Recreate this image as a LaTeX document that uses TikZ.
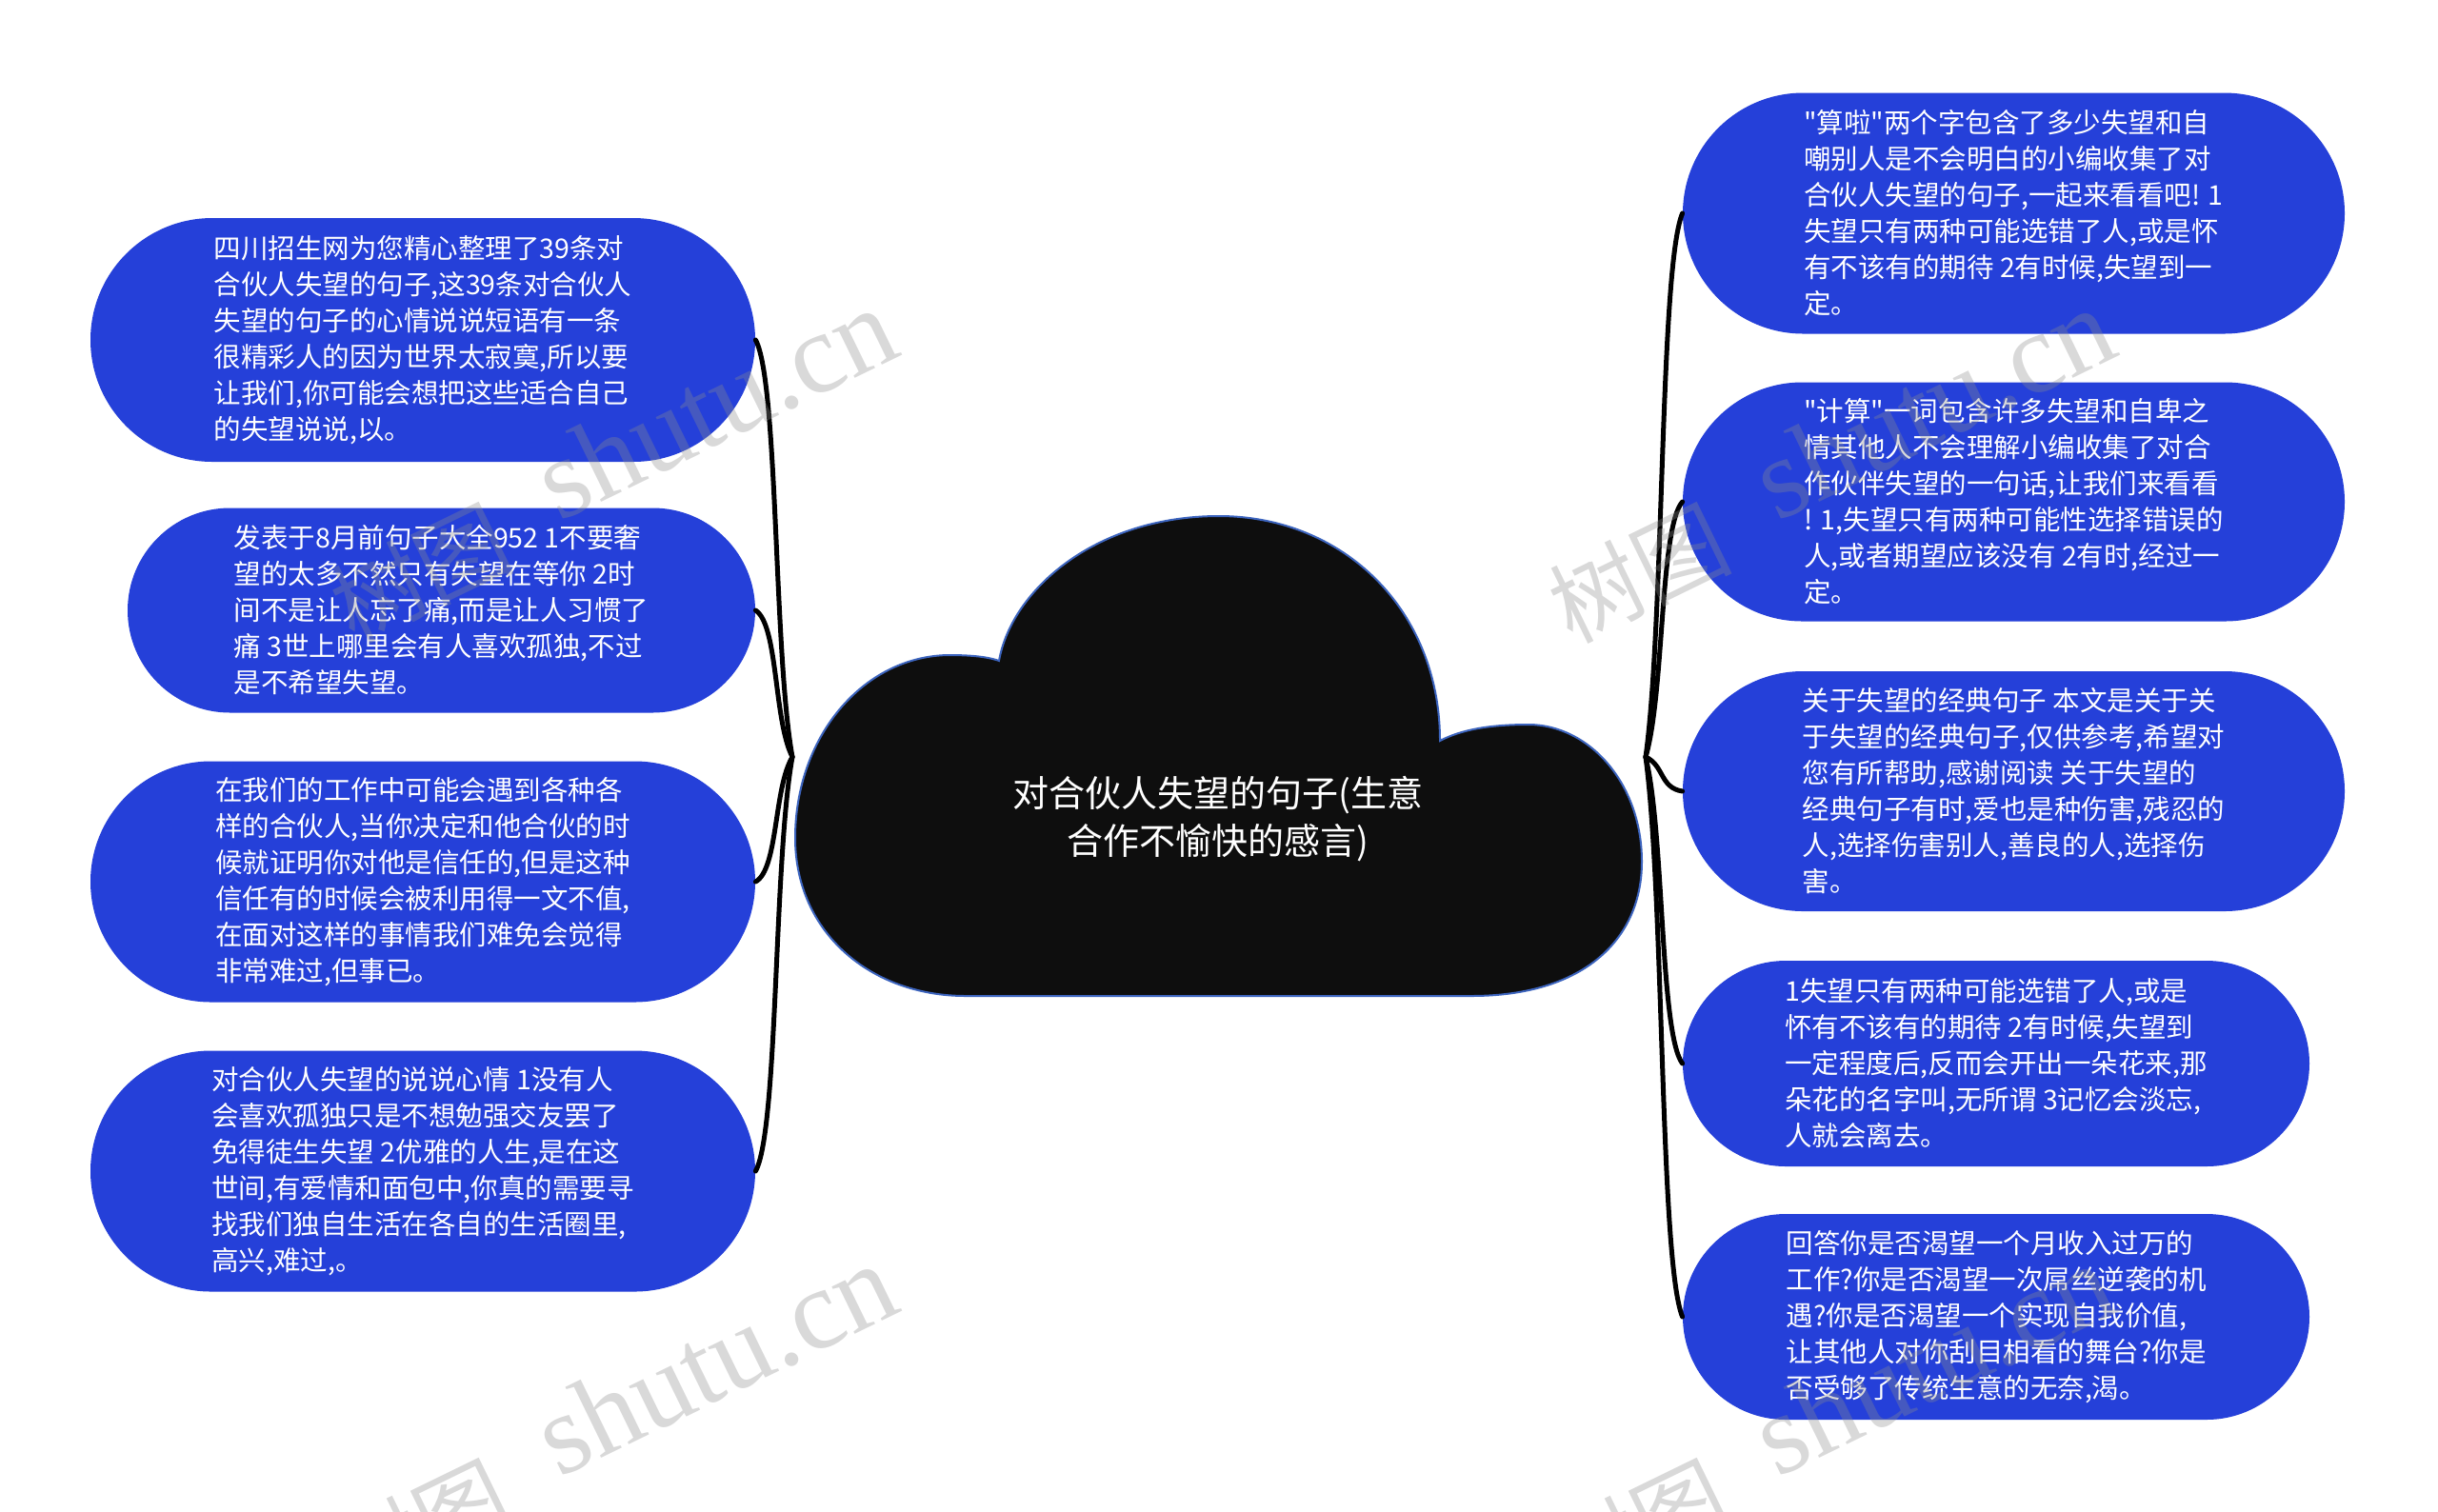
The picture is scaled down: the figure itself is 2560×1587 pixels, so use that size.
\documentclass[tikz,border=0pt]{standalone}
\usepackage{fontspec}
\newfontfamily\nodefont{Noto Sans CJK SC}
\newfontfamily\cjk{Noto Sans CJK SC}
\newfontfamily\wmlatin{Liberation Serif}
\usetikzlibrary{shapes.misc,calc}
\definecolor{nodeblue}{RGB}{37,64,217}
\definecolor{cloudfill}{RGB}{14,14,14}
\definecolor{cloudline}{RGB}{60,100,190}
\definecolor{wmgray}{RGB}{140,140,140}
\newcommand\wmtext{\raisebox{-10pt}{\cjk\fontsize{48pt}{48pt}\selectfont 树图}\hspace{14pt} shutu.cn}
\tikzset{
  leaf/.style={rounded rectangle, fill=nodeblue, draw=none, text=white, align=left,
    inner sep=0pt, font=\nodefont\fontsize{14.25pt}{19pt}\selectfont},
  conn/.style={draw=black, line width=2.5pt, line cap=round},
  wm/.style={font=\wmlatin\fontsize{60pt}{60pt}\selectfont, text=wmgray, text opacity=0.33, rotate=26, anchor=base east, inner sep=0pt}
}
\begin{document}
\begin{tikzpicture}[x=0.5pt,y=-0.5pt]
\useasboundingbox (0,0) rectangle (2560,1587);
\fill[white] (0,0) rectangle (2560,1587);

% cloud
\filldraw[fill=cloudfill, draw=cloudline, line width=1pt]
  (1014,1046) -- (1545,1046)
  .. controls (1665,1046) and (1724,985) .. (1724,905)
  .. controls (1724,822) and (1668,761) .. (1605,761)
  .. controls (1565,761) and (1535,766) .. (1512,778)
  .. controls (1512,640) and (1410,542) .. (1280,542)
  .. controls (1150,542) and (1062,620) .. (1049,694)
  .. controls (1035,689) and (1015,688) .. (995,688)
  .. controls (905,690) and (835,775) .. (835,880)
  .. controls (835,980) and (915,1046) .. (1014,1046) -- cycle;
\node[font=\nodefont\fontsize{19pt}{25pt}\selectfont, text=white, align=center] (center) at (1279,860)
  {对合伙人失望的句子(生意\\合作不愉快的感言)};

\coordinate (jl) at (832,795);
\coordinate (jr) at (1728,795);

% left nodes
\node[leaf, minimum width=349pt, minimum height=128pt] (l1) at (444,357)
{四川招生网为您精心整理了39条对\\合伙人失望的句子,这39条对合伙人\\失望的句子的心情说说短语有一条\\很精彩人的因为世界太寂寞,所以要\\让我们,你可能会想把这些适合自己\\的失望说说,以。};
\node[leaf, minimum width=329.5pt, minimum height=107.5pt] (l2) at (463.5,641)
{发表于8月前句子大全952 1不要奢\\望的太多不然只有失望在等你 2时\\间不是让人忘了痛,而是让人习惯了\\痛 3世上哪里会有人喜欢孤独,不过\\是不希望失望。};
\node[leaf, minimum width=349pt, minimum height=126.5pt] (l3) at (444,926)
{在我们的工作中可能会遇到各种各\\样的合伙人,当你决定和他合伙的时\\候就证明你对他是信任的,但是这种\\信任有的时候会被利用得一文不值,\\在面对这样的事情我们难免会觉得\\非常难过,但事已。};
\node[leaf, minimum width=349pt, minimum height=126.5pt] (l4) at (444,1230)
{对合伙人失望的说说心情 1没有人\\会喜欢孤独只是不想勉强交友罢了\\免得徒生失望 2优雅的人生,是在这\\世间,有爱情和面包中,你真的需要寻\\找我们独自生活在各自的生活圈里,\\高兴,难过,。};

% right nodes
\node[leaf, minimum width=347.5pt, minimum height=126.5pt] (r1) at (2114.5,224)
{"算啦"两个字包含了多少失望和自\\嘲别人是不会明白的小编收集了对\\合伙人失望的句子,一起来看看吧! 1\\失望只有两种可能选错了人,或是怀\\有不该有的期待 2有时候,失望到一\\定。};
\node[leaf, minimum width=347.5pt, minimum height=125.5pt] (r2) at (2114.5,527)
{"计算"一词包含许多失望和自卑之\\情其他人不会理解小编收集了对合\\作伙伴失望的一句话,让我们来看看\\! 1,失望只有两种可能性选择错误的\\人,或者期望应该没有 2有时,经过一\\定。};
\node[leaf, minimum width=347.5pt, minimum height=126pt] (r3) at (2114.5,831)
{关于失望的经典句子 本文是关于关\\于失望的经典句子,仅供参考,希望对\\您有所帮助,感谢阅读 关于失望的\\经典句子有时,爱也是种伤害,残忍的\\人,选择伤害别人,善良的人,选择伤\\害。};
\node[leaf, minimum width=329pt, minimum height=108pt] (r4) at (2096,1117)
{1失望只有两种可能选错了人,或是\\怀有不该有的期待 2有时候,失望到\\一定程度后,反而会开出一朵花来,那\\朵花的名字叫,无所谓 3记忆会淡忘,\\人就会离去。};
\node[leaf, minimum width=329pt, minimum height=108pt] (r5) at (2096,1383)
{回答你是否渴望一个月收入过万的\\工作?你是否渴望一次屌丝逆袭的机\\遇?你是否渴望一个实现自我价值,\\让其他人对你刮目相看的舞台?你是\\否受够了传统生意的无奈,渴。};

% connectors
\foreach \t in {l1,l2,l3,l4}{
  \draw[conn] (\t.east) .. controls ($(\t.east)!0.1!(jl)+(20,0)$) and ($(jl)!0.25!(\t.east)+(-10,0)$) .. (jl);
}
\foreach \t in {r1,r2,r3,r4,r5}{
  \draw[conn] (\t.west) .. controls ($(\t.west)!0.1!(jr)+(-20,0)$) and ($(jr)!0.25!(\t.west)+(10,0)$) .. (jr);
}

% watermarks
\node[wm] (wm1) at (950,372) {\wmtext};
\node[wm] (wm2) at (2229,372) {\wmtext};
\node[wm] (wm3) at (950,1376) {\wmtext};
\node[wm] (wm4) at (2229,1376) {\wmtext};
\end{tikzpicture}
\end{document}
